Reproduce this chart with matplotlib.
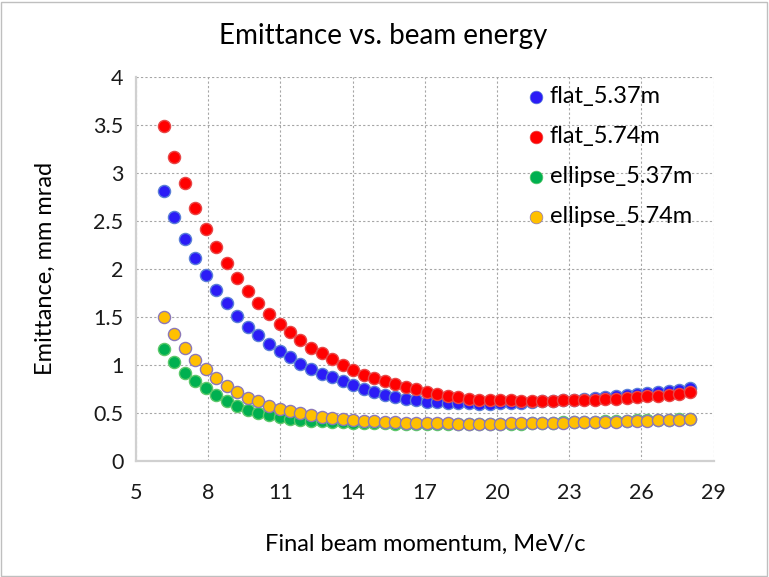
import matplotlib
matplotlib.use("Agg")
from matplotlib import pyplot as plt
from matplotlib.patches import Rectangle

plt.rcParams['font.family'] = ['Lato', 'DejaVu Sans']

# final beam momentum, MeV/c
momentum = [6.15, 6.59, 7.02, 7.46, 7.90, 8.34, 8.77, 9.21, 9.65, 10.08,
            10.52, 10.96, 11.39, 11.83, 12.27, 12.71, 13.14, 13.58, 14.02, 14.45,
            14.89, 15.33, 15.76, 16.20, 16.64, 17.08, 17.51, 17.95, 18.39, 18.82,
            19.26, 19.70, 20.13, 20.57, 21.01, 21.45, 21.88, 22.32, 22.76, 23.19,
            23.63, 24.07, 24.50, 24.94, 25.38, 25.82, 26.25, 26.69, 27.13, 27.56,
            28.00]

# emittance, mm mrad
flat_537 = [2.81, 2.54, 2.31, 2.11, 1.94, 1.78, 1.64, 1.51, 1.40, 1.31,
            1.22, 1.15, 1.08, 1.01, 0.96, 0.91, 0.87, 0.83, 0.79, 0.75,
            0.72, 0.69, 0.67, 0.65, 0.63, 0.615, 0.61, 0.605, 0.60, 0.60,
            0.598, 0.598, 0.60, 0.60, 0.605, 0.61, 0.62, 0.625, 0.635, 0.64,
            0.65, 0.66, 0.665, 0.675, 0.685, 0.695, 0.705, 0.715, 0.725, 0.74,
            0.755]
flat_574 = [3.49, 3.16, 2.89, 2.63, 2.42, 2.23, 2.06, 1.90, 1.77, 1.65,
            1.53, 1.43, 1.34, 1.26, 1.18, 1.12, 1.06, 1.00, 0.95, 0.90,
            0.86, 0.83, 0.80, 0.77, 0.75, 0.72, 0.70, 0.68, 0.67, 0.65,
            0.64, 0.635, 0.63, 0.63, 0.625, 0.625, 0.628, 0.628, 0.63, 0.63,
            0.635, 0.64, 0.645, 0.65, 0.657, 0.664, 0.672, 0.68, 0.69, 0.70,
            0.715]
ellipse_537 = [1.17, 1.03, 0.92, 0.83, 0.76, 0.69, 0.625, 0.575, 0.535, 0.50,
               0.475, 0.455, 0.44, 0.43, 0.42, 0.413, 0.408, 0.403, 0.40, 0.396,
               0.393, 0.391, 0.389, 0.387, 0.386, 0.385, 0.384, 0.384, 0.384, 0.384,
               0.385, 0.386, 0.387, 0.388, 0.39, 0.392, 0.395, 0.398, 0.401, 0.404,
               0.407, 0.41, 0.413, 0.416, 0.419, 0.422, 0.425, 0.428, 0.431, 0.434,
               0.437]
ellipse_574 = [1.50, 1.32, 1.18, 1.05, 0.955, 0.86, 0.785, 0.72, 0.66, 0.62,
               0.575, 0.545, 0.52, 0.50, 0.475, 0.458, 0.445, 0.435, 0.427, 0.42,
               0.414, 0.408, 0.403, 0.399, 0.396, 0.394, 0.392, 0.391, 0.39, 0.39,
               0.39, 0.39, 0.39, 0.391, 0.392, 0.394, 0.396, 0.398, 0.40, 0.402,
               0.404, 0.406, 0.408, 0.41, 0.413, 0.416, 0.419, 0.422, 0.425, 0.429,
               0.433]

x_ticks = [5, 8, 11, 14, 17, 20, 23, 26, 29]
y_ticks = [0, 0.5, 1, 1.5, 2, 2.5, 3, 3.5, 4]
y_tick_labels = ['0', '0.5', '1', '1.5', '2', '2.5', '3', '3.5', '4']

series = [
    ('flat_5.37m', flat_537, '#2B1CF6', '#5A7FD8'),
    ('flat_5.74m', flat_574, '#FF0000', '#E84848'),
    ('ellipse_5.37m', ellipse_537, '#00B050', '#5CC86A'),
    ('ellipse_5.74m', ellipse_574, '#FFC000', '#8C78B8'),
]


def main():
    fig = plt.figure(figsize=(7.69, 5.77), dpi=100)
    ax = fig.add_axes([0.177, 0.201, 0.751, 0.666])

    for label, values, face, edge in series:
        ax.scatter(momentum, values, s=76, color=face, edgecolors=edge,
                   linewidths=1.0, label=label, zorder=3)

    ax.set_xlim(5, 29)
    ax.set_ylim(0, 4)
    ax.set_xticks(x_ticks)
    ax.set_yticks(y_ticks)
    ax.set_yticklabels(y_tick_labels)
    ax.tick_params(length=0, labelsize=15.5, pad=9, colors='#1A1A1A')
    ax.tick_params(axis='x', pad=16)

    # dashed grid, light axis lines
    ax.grid(True, color='#A6A6A6', linestyle=(0, (2, 2)), linewidth=0.8)
    ax.set_axisbelow(True)
    for side in ['top', 'right']:
        ax.spines[side].set_visible(False)
    for side in ['left', 'bottom']:
        ax.spines[side].set_color('#D0D0D0')
        ax.spines[side].set_linewidth(1.6)

    ax.set_xlabel('Final beam momentum, MeV/c', fontsize=17, labelpad=22)
    ax.set_ylabel('Emittance, mm mrad', fontsize=17, labelpad=27)
    fig.text(0.498, 0.938, 'Emittance vs. beam energy', fontsize=20,
             ha='center', va='center')

    leg = ax.legend(loc='upper left', bbox_to_anchor=(0.655, 1.012), frameon=False,
                    fontsize=17, labelspacing=0.8, handlelength=0.6,
                    handletextpad=0.3, borderaxespad=0.2, markerscale=1.05)
    for h in leg.legend_handles:
        h.set_linewidth(0.5)

    # chart border
    fig.patches.append(Rectangle((0.001, 0.002), 0.997, 0.995, transform=fig.transFigure,
                                 fill=False, edgecolor='#BFBFBF', linewidth=1.0))

    fig.savefig('out.png', dpi=100)


if __name__ == '__main__':
    main()
